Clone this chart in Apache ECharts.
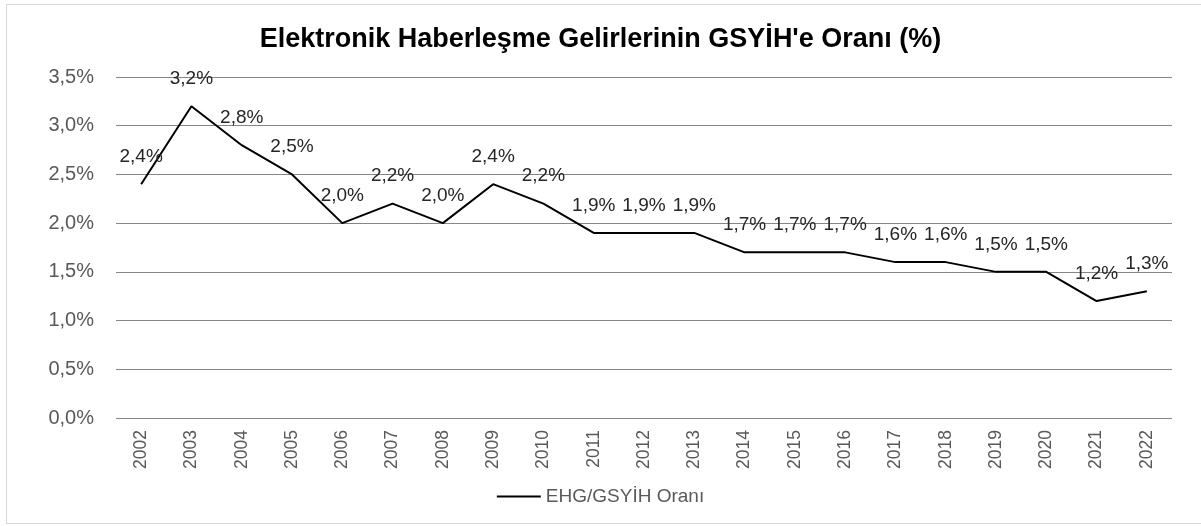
<!DOCTYPE html>
<html>
<head>
<meta charset="utf-8">
<script src="https://cdn.jsdelivr.net/npm/echarts@6/dist/echarts.min.js"></script>
<style>
  html, body { margin: 0; padding: 0; background: #fff; }
  #chart { width: 1201px; height: 526px; }
  #frame { position: absolute; left: 6px; top: 4px; width: 1200px; height: 520px; border: 1px solid #d9d9d9; box-sizing: border-box; pointer-events: none; }
</style>
</head>
<body>
<div id="chart"></div>
<div id="frame"></div>
<script>
const years = ['2002', '2003', '2004', '2005', '2006', '2007', '2008', '2009', '2010', '2011', '2012',
  '2013', '2014', '2015', '2016', '2017', '2018', '2019', '2020', '2021', '2022'];
const ratio = [2.4, 3.2, 2.8, 2.5, 2.0, 2.2, 2.0, 2.4, 2.2, 1.9, 1.9,
  1.9, 1.7, 1.7, 1.7, 1.6, 1.6, 1.5, 1.5, 1.2, 1.3];
const seriesName = 'EHG/GSYİH Oranı';
const titleText = "Elektronik Haberleşme Gelirlerinin GSYİH'e Oranı (%)";

const fmt = v => v.toFixed(1).replace('.', ',') + '%';
const font = '"Liberation Sans", Arial, sans-serif';

const myChart = echarts.init(document.getElementById('chart'));
const option = {
  animation: false,
  textStyle: { fontFamily: font },
  title: {
    text: titleText,
    left: 'center',
    top: 21,
    textStyle: { fontSize: 27, fontWeight: 'bold', color: '#000', fontFamily: font }
  },
  legend: {
    bottom: 15,
    left: 'center',
    itemWidth: 44,
    itemHeight: 2,
    icon: 'rect',
    itemGap: 10,
    data: [{ name: seriesName, icon: 'rect', itemStyle: { color: '#000' } }],
    textStyle: { color: '#595959', fontSize: 19 }
  },
  grid: { left: 116, right: 29, top: 77, bottom: 108 },
  xAxis: {
    type: 'category',
    data: years,
    boundaryGap: true,
    axisLine: { show: false },
    axisTick: { show: false },
    axisLabel: { rotate: 90, color: '#595959', fontSize: 17.5, margin: 12 }
  },
  yAxis: {
    type: 'value',
    min: 0,
    max: 3.5,
    interval: 0.5,
    axisLine: { show: false },
    axisTick: { show: false },
    splitLine: { lineStyle: { color: '#868686', width: 1 } },
    axisLabel: { color: '#595959', fontSize: 20, margin: 22, formatter: fmt }
  },
  series: [{
    name: seriesName,
    type: 'line',
    data: ratio,
    symbol: 'circle',
    symbolSize: 0,
    showSymbol: true,
    lineStyle: { color: '#000', width: 2 },
    itemStyle: { color: '#000' },
    labelLayout: { hideOverlap: false },
    label: {
      show: true,
      position: 'top',
      distance: 18,
      color: '#262626',
      fontSize: 19,
      formatter: p => fmt(p.value)
    }
  }]
};
myChart.setOption(option);
</script>
</body>
</html>
